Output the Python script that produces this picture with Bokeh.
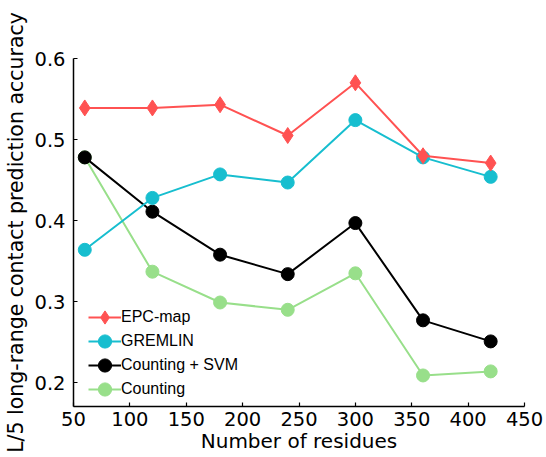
from bokeh.plotting import figure
from bokeh.models import Range1d, Legend, LegendItem, FixedTicker
from bokeh.embed import file_html
from bokeh.resources import INLINE

residues = [60, 120, 180, 240, 300, 360, 420]
epc_map = [0.539, 0.539, 0.543, 0.505, 0.570, 0.480, 0.471]
gremlin = [0.364, 0.428, 0.457, 0.447, 0.524, 0.478, 0.454]
counting_svm = [0.478, 0.411, 0.358, 0.334, 0.397, 0.277, 0.251]
counting = [0.478, 0.337, 0.299, 0.290, 0.335, 0.209, 0.214]

x_ticks = [50, 100, 150, 200, 250, 300, 350, 400, 450]
y_ticks = [0.2, 0.3, 0.4, 0.5, 0.6]

series = [
    ("EPC-map", epc_map, "#FF5252", "diamond", 16),
    ("GREMLIN", gremlin, "#17BECF", "circle", 13),
    ("Counting + SVM", counting_svm, "#000000", "circle", 13),
    ("Counting", counting, "#98DF8A", "circle", 13),
]

p = figure(width=546, height=457, output_backend="svg", toolbar_location=None,
           x_range=Range1d(50, 450), y_range=Range1d(0.1707, 0.6),
           min_border_left=73, min_border_right=22, min_border_top=58, min_border_bottom=51)
p.outline_line_color = None
p.grid.visible = False
p.background_fill_color = "white"

renderers = {}
for name, vals, color, marker, size in reversed(series):
    l = p.line(residues, vals, line_color=color, line_width=2)
    s = p.scatter(residues, vals, marker=marker, size=size, fill_color=color, line_color=color)
    renderers[name] = [l, s]

# one legend per entry so that entries can sit closer than the glyph box height
offsets = [72, 48, 24, 0]
for (name, *_), off in zip(series, offsets):
    lg = Legend(items=[LegendItem(label=name, renderers=renderers[name])],
                location=(15, off), background_fill_alpha=0, border_line_color=None,
                glyph_width=33, glyph_height=34, label_height=34, spacing=0, padding=0, margin=0,
                label_standoff=0, label_text_font="Liberation Sans", label_text_font_size="16px",
                label_text_color="black")
    p.add_layout(lg, "center")

for ax in (p.xaxis[0], p.yaxis[0]):
    ax.axis_line_color = "black"
    ax.axis_line_width = 1.5
    ax.major_tick_line_color = "black"
    ax.major_tick_line_width = 1.2
    ax.major_tick_out = 0
    ax.major_tick_in = 4
    ax.minor_tick_line_color = None
    ax.major_label_text_font = "DejaVu Sans"
    ax.major_label_text_font_size = "19.5px"
    ax.major_label_text_color = "black"
    ax.axis_label_text_font = "DejaVu Sans"
    ax.axis_label_text_color = "black"
    ax.axis_label_text_font_style = "normal"

p.xaxis.ticker = FixedTicker(ticks=x_ticks)
p.yaxis.ticker = FixedTicker(ticks=y_ticks)
p.yaxis.major_label_overrides = {0.2: "0.2", 0.3: "0.3", 0.4: "0.4", 0.5: "0.5", 0.6: "0.6"}
p.xaxis.axis_label = "Number of residues"
p.yaxis.axis_label = "L/5 long-range contact prediction accuracy"
p.xaxis.axis_label_text_font_size = "20px"
p.yaxis.axis_label_text_font_size = "20.5px"
p.xaxis.major_label_standoff = 5
p.xaxis.axis_label_standoff = 0
p.yaxis.major_label_standoff = 8
p.yaxis.axis_label_standoff = 3

open("out.html", "w").write(file_html(p, INLINE))
